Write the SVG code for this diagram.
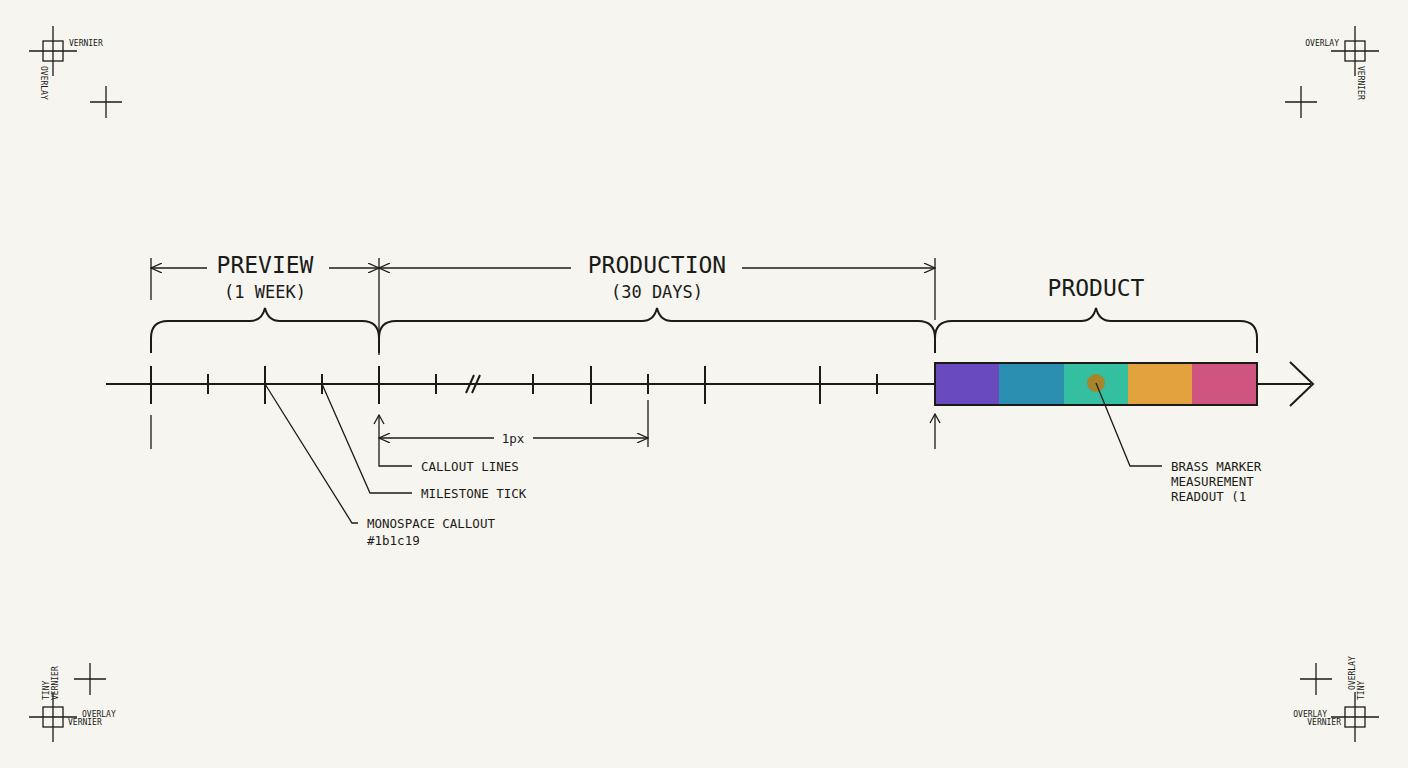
<svg xmlns="http://www.w3.org/2000/svg" width="1408" height="768" viewBox="0 0 1408 768">
<defs>
<style>
.l{stroke:#1b1c19;fill:none;stroke-width:1.3}
.m{stroke:#1b1c19;fill:none;stroke-width:2}
.t{font-family:"DejaVu Sans Mono","Liberation Mono",monospace;fill:#1b1c19}
.big{font-size:23px;text-anchor:middle}
.sub{font-size:17px;text-anchor:middle}
.s{font-size:12.5px}
.c{font-size:8px}
</style>
<marker id="a" markerWidth="12" markerHeight="10" refX="11" refY="5" orient="auto-start-reverse" markerUnits="userSpaceOnUse"><path d="M0,0 L11,5 L0,10" fill="none" stroke="#1b1c19" stroke-width="1.2"/></marker>
</defs>
<rect width="1408" height="768" fill="#f6f5ef"/>
<g id="corners" class="l" stroke-width="1.2">
<rect x="43" y="41" width="20" height="20"/><path d="M29,51H77M53,26V76M90,102H122M106,86V118"/>
<rect x="1345" y="41" width="20" height="20"/><path d="M1331,51H1379M1355,26V76M1285,102H1317M1301,86V118"/>
<rect x="43" y="707" width="20" height="20"/><path d="M29,717H77M53,692V742M74,679H106M90,663V695"/>
<rect x="1345" y="707" width="20" height="20"/><path d="M1331,717H1379M1355,692V742M1300,679H1332M1316,663V695"/>
</g>
<g class="t c">
<text x="69" y="46">VERNIER</text>
<text transform="translate(41,66) rotate(90)">OVERLAY</text>
<text x="1339" y="46" text-anchor="end">OVERLAY</text>
<text transform="translate(1358,66) rotate(90)">VERNIER</text>
<text x="82" y="717">OVERLAY</text>
<text x="68" y="725">VERNIER</text>
<text transform="translate(49,700) rotate(-90)">TINY</text>
<text transform="translate(58,700) rotate(-90)">VERNIER</text>
<text x="1327" y="717" text-anchor="end">OVERLAY</text>
<text x="1341" y="725" text-anchor="end">VERNIER</text>
<text transform="translate(1364,700) rotate(-90)">TINY</text>
<text transform="translate(1355,690) rotate(-90)">OVERLAY</text>
</g>
<g id="product-bar">
<rect x="935" y="363" width="65" height="42" fill="#6a4bbf"/>
<rect x="999" y="363" width="65" height="42" fill="#2a8fb0"/>
<rect x="1064" y="363" width="65" height="42" fill="#33bfa0"/>
<rect x="1128" y="363" width="65" height="42" fill="#e2a23d"/>
<rect x="1192" y="363" width="65" height="42" fill="#cf5480"/>
<rect x="935" y="363" width="322" height="42" class="m"/>
<circle cx="1096" cy="383" r="9" fill="#a8842a"/>
</g>
<g id="connectors">
<path class="m" d="M106,384H935M1257,384H1311M1290,362L1313,384L1290,406"/>
<path class="m" d="M151,366V404M265,366V404M379,366V404M591,366V404M705,366V404M820,366V404M208,374V394M322,374V394M436,374V394M533,374V394M648,374V394M877,374V394M466,393L474,375M472,393L480,375"/>
<path class="l" d="M151,415V449M379,415V466H412M935,414V449M648,400V447"/>
<path class="l" d="M374,424L379,415L384,424M930,423L935,414L940,423"/>
<path class="l" d="M151,258V300M379,258V355M935,258V320"/>
<path class="l" d="M151,268H207" marker-start="url(#a)"/>
<path class="l" d="M329,268H379" marker-end="url(#a)"/>
<path class="l" d="M379,268H571" marker-start="url(#a)"/>
<path class="l" d="M742,268H935" marker-end="url(#a)"/>
<path class="l" d="M379,438H494" marker-start="url(#a)"/>
<path class="l" d="M533,438H648" marker-end="url(#a)"/>
<path class="m" d="M151,353V338Q151,321,168,321H250Q262,321,265,308Q268,321,280,321H362Q379,321,379,338V353"/>
<path class="m" d="M379,353V338Q379,321,396,321H642Q654,321,657,308Q660,321,672,321H918Q935,321,935,338V353"/>
<path class="m" d="M935,353V338Q935,321,952,321H1081Q1093,321,1096,308Q1099,321,1111,321H1240Q1257,321,1257,338V353"/>
<path class="l" d="M322,384L370,493H412M265,384L352,523H358M1096,383L1130,466H1162"/>
</g>
<g id="labels" class="t">
<text class="big" x="265" y="273">PREVIEW</text>
<text class="sub" x="265" y="298">(1 WEEK)</text>
<text class="big" x="657" y="273">PRODUCTION</text>
<text class="sub" x="657" y="298">(30 DAYS)</text>
<text class="big" x="1096" y="296">PRODUCT</text>
<text class="s" x="513" y="443" text-anchor="middle">1px</text>
<text class="s" x="421" y="471">CALLOUT LINES</text>
<text class="s" x="421" y="498">MILESTONE TICK</text>
<text class="s" x="367" y="528">MONOSPACE CALLOUT</text>
<text class="s" x="367" y="545">#1b1c19</text>
<text class="s" x="1171" y="471">BRASS MARKER</text>
<text class="s" x="1171" y="486">MEASUREMENT</text>
<text class="s" x="1171" y="501">READOUT (1</text>
</g>
</svg>
